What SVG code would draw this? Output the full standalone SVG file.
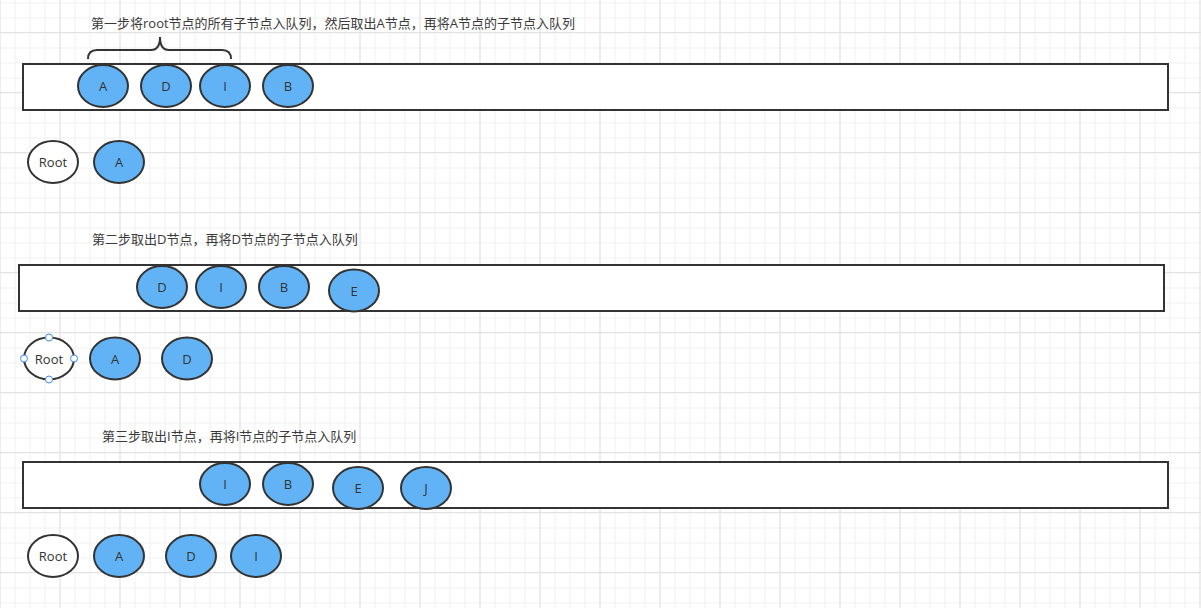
<svg xmlns="http://www.w3.org/2000/svg" width="1201" height="608" viewBox="0 0 1201 608">
<style>
.q{fill:#fff;stroke:#333;stroke-width:2}
.n{fill:#62b3f5;stroke:#333;stroke-width:2}
.r{fill:#fff;stroke:#333;stroke-width:2}
.t{font-family:"Open Sans","Noto Sans CJK SC",sans-serif;font-size:13px;fill:#333;text-anchor:middle;dominant-baseline:central}
.cap{font-family:"Open Sans","Noto Sans CJK SC",sans-serif;font-size:13px;fill:#3a3a3a}
.h{fill:#fff;stroke:#3b8df5;stroke-width:1}
</style>
<defs>
<pattern id="minor" width="15" height="15" patternUnits="userSpaceOnUse" x="-0.5" y="2.5">
<path d="M0 0.5H15M0.5 0V15" fill="none" stroke="#f0f0f0" stroke-width="1"/>
</pattern>
<pattern id="major" width="60" height="60" patternUnits="userSpaceOnUse" x="-0.5" y="32">
<path d="M0 0.5H60M0.5 0V60" fill="none" stroke="#e2e2e2" stroke-width="1"/>
</pattern>
</defs>
<rect width="1201" height="608" fill="#fff"/>
<rect width="1201" height="608" fill="url(#minor)"/>
<rect width="1201" height="608" fill="url(#major)"/>

<g id="step1">
<text class="cap" x="91" y="28">第一步将root节点的所有子节点入队列，然后取出A节点，再将A节点的子节点入队列</text>
<path d="M88 59 Q88 50 97 50 H151 Q160 50 160 37 Q160 50 169 50 H222 Q231 50 231 59" fill="none" stroke="#333" stroke-width="2"/>
<rect id="queue1" class="q" x="23" y="64" width="1145" height="46"/>
<g id="q1-A"><ellipse class="n" cx="103" cy="86" rx="25" ry="21"/><text class="t" x="103" y="86">A</text></g>
<g id="q1-D"><ellipse class="n" cx="166" cy="86" rx="25" ry="21"/><text class="t" x="166" y="86">D</text></g>
<g id="q1-I"><ellipse class="n" cx="225" cy="86" rx="25" ry="21"/><text class="t" x="225" y="86">I</text></g>
<g id="q1-B"><ellipse class="n" cx="288" cy="86" rx="25" ry="21"/><text class="t" x="288" y="86">B</text></g>
<g id="o1-Root"><ellipse class="r" cx="53" cy="162" rx="25" ry="21"/><text class="t" x="53" y="162">Root</text></g>
<g id="o1-A"><ellipse class="n" cx="119" cy="162" rx="25" ry="21"/><text class="t" x="119" y="162">A</text></g>
</g>

<g id="step2">
<text class="cap" x="92" y="244">第二步取出D节点，再将D节点的子节点入队列</text>
<rect id="queue2" class="q" x="19" y="265" width="1145" height="46"/>
<g id="q2-D"><ellipse class="n" cx="162" cy="287" rx="25" ry="21"/><text class="t" x="162" y="287">D</text></g>
<g id="q2-I"><ellipse class="n" cx="221" cy="287" rx="25" ry="21"/><text class="t" x="221" y="287">I</text></g>
<g id="q2-B"><ellipse class="n" cx="284" cy="287" rx="25" ry="21"/><text class="t" x="284" y="287">B</text></g>
<g id="q2-E"><ellipse class="n" cx="354" cy="290.5" rx="25" ry="21"/><text class="t" x="354" y="291">E</text></g>
<g id="o2-Root"><ellipse class="r" cx="49" cy="358.5" rx="25" ry="21"/><text class="t" x="49" y="358.5">Root</text>
<circle class="h" cx="49" cy="337.5" r="3.5"/><circle class="h" cx="49" cy="379.5" r="3.5"/><circle class="h" cx="24" cy="358.5" r="3.5"/><circle class="h" cx="74" cy="358.5" r="3.5"/></g>
<g id="o2-A"><ellipse class="n" cx="115" cy="358.5" rx="25" ry="21"/><text class="t" x="115" y="358.5">A</text></g>
<g id="o2-D"><ellipse class="n" cx="187" cy="358.5" rx="25" ry="21"/><text class="t" x="187" y="358.5">D</text></g>
</g>

<g id="step3">
<text class="cap" x="102" y="441">第三步取出I节点，再将I节点的子节点入队列</text>
<rect id="queue3" class="q" x="23" y="462" width="1145" height="46"/>
<g id="q3-I"><ellipse class="n" cx="225" cy="484" rx="25" ry="21"/><text class="t" x="225" y="484">I</text></g>
<g id="q3-B"><ellipse class="n" cx="288" cy="484" rx="25" ry="21"/><text class="t" x="288" y="484">B</text></g>
<g id="q3-E"><ellipse class="n" cx="358" cy="488" rx="25" ry="21"/><text class="t" x="358" y="488">E</text></g>
<g id="q3-J"><ellipse class="n" cx="426" cy="488" rx="25" ry="21"/><text class="t" x="426" y="488">J</text></g>
<g id="o3-Root"><ellipse class="r" cx="53" cy="556" rx="25" ry="21"/><text class="t" x="53" y="556">Root</text></g>
<g id="o3-A"><ellipse class="n" cx="119" cy="556" rx="25" ry="21"/><text class="t" x="119" y="556">A</text></g>
<g id="o3-D"><ellipse class="n" cx="191" cy="556" rx="25" ry="21"/><text class="t" x="191" y="556">D</text></g>
<g id="o3-I"><ellipse class="n" cx="256" cy="556" rx="25" ry="21"/><text class="t" x="256" y="556">I</text></g>
</g>
<g id="connectors"/>
</svg>
